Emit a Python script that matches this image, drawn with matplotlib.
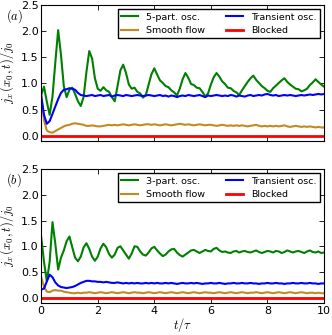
import numpy as np
import matplotlib
matplotlib.use("Agg")
import matplotlib.pyplot as plt

# time grid (t / tau)
t = np.linspace(0, 10, 101)
t_block = [0, 10]

# panel (a)
osc5_a = [0.78, 0.94, 0.65, 0.40, 0.75, 1.40, 2.02, 1.55, 0.95, 0.74,
          0.88, 0.92, 0.80, 0.66, 0.57, 0.74, 1.22, 1.62, 1.48, 1.10,
          0.90, 0.86, 0.93, 0.87, 0.84, 0.74, 0.66, 0.95, 1.25, 1.36,
          1.20, 0.98, 0.90, 0.92, 0.84, 0.81, 0.73, 0.78, 0.98, 1.18,
          1.29, 1.17, 1.06, 1.01, 0.95, 0.93, 0.87, 0.83, 0.77, 0.90,
          1.08, 1.20, 1.11, 0.99, 0.97, 0.92, 0.91, 0.84, 0.75, 0.81,
          0.98, 1.12, 1.20, 1.13, 1.04, 0.99, 0.92, 0.91, 0.86, 0.83,
          0.78, 0.87, 0.95, 1.03, 1.10, 1.15, 1.07, 1.01, 0.95, 0.91,
          0.86, 0.84, 0.91, 0.96, 1.01, 1.06, 1.10, 1.03, 0.98, 0.94,
          0.90, 0.89, 0.85, 0.87, 0.90, 0.97, 1.02, 1.08, 1.03, 0.98,
          0.94]
smooth_a = [0.77, 0.30, 0.10, 0.07, 0.06, 0.09, 0.12, 0.15, 0.18, 0.20,
            0.21, 0.23, 0.24, 0.23, 0.22, 0.21, 0.19, 0.19, 0.20, 0.19,
            0.18, 0.18, 0.19, 0.20, 0.21, 0.20, 0.21, 0.20, 0.21, 0.22,
            0.21, 0.20, 0.21, 0.22, 0.21, 0.20, 0.21, 0.22, 0.22, 0.21,
            0.22, 0.21, 0.20, 0.21, 0.22, 0.21, 0.20, 0.21, 0.22, 0.23,
            0.22, 0.21, 0.22, 0.21, 0.20, 0.21, 0.22, 0.21, 0.20, 0.21,
            0.21, 0.20, 0.19, 0.20, 0.21, 0.20, 0.19, 0.20, 0.19, 0.20,
            0.19, 0.20, 0.19, 0.18, 0.19, 0.20, 0.21, 0.19, 0.18, 0.19,
            0.18, 0.19, 0.18, 0.19, 0.18, 0.19, 0.20, 0.18, 0.17, 0.18,
            0.19, 0.18, 0.17, 0.18, 0.17, 0.18, 0.17, 0.16, 0.17, 0.16,
            0.16]
trans_a = [0.77, 0.40, 0.23, 0.28, 0.42, 0.56, 0.70, 0.82, 0.88, 0.89,
           0.91, 0.90, 0.88, 0.82, 0.78, 0.77, 0.76, 0.77, 0.78, 0.76,
           0.77, 0.78, 0.76, 0.77, 0.78, 0.75, 0.77, 0.78, 0.77, 0.76,
           0.78, 0.77, 0.76, 0.77, 0.78, 0.77, 0.76, 0.77, 0.78, 0.77,
           0.76, 0.77, 0.78, 0.76, 0.77, 0.75, 0.77, 0.76, 0.74, 0.76,
           0.77, 0.76, 0.78, 0.77, 0.76, 0.77, 0.78, 0.76, 0.74, 0.77,
           0.76, 0.77, 0.78, 0.77, 0.76, 0.77, 0.76, 0.78, 0.77, 0.75,
           0.77, 0.76, 0.75, 0.77, 0.78, 0.76, 0.77, 0.78, 0.77, 0.79,
           0.80, 0.78, 0.77, 0.78, 0.76, 0.77, 0.78, 0.77, 0.78, 0.77,
           0.76, 0.77, 0.78, 0.77, 0.78, 0.79, 0.78, 0.79, 0.80, 0.79,
           0.80]
block_a = [0.0, 0.0]

# panel (b)
osc3_b = [1.18, 0.70, 0.32, 0.70, 1.47, 1.05, 0.55, 0.78, 0.92, 1.10,
          1.19, 0.98, 0.78, 0.71, 0.80, 0.98, 1.06, 0.95, 0.80, 0.72,
          0.80, 0.96, 1.05, 0.98, 0.85, 0.78, 0.84, 0.97, 1.00, 0.92,
          0.84, 0.76, 0.86, 1.00, 0.99, 0.90, 0.84, 0.82, 0.88, 0.96,
          0.99, 0.92, 0.86, 0.81, 0.84, 0.90, 0.94, 0.95, 0.88, 0.83,
          0.80, 0.84, 0.88, 0.92, 0.93, 0.90, 0.87, 0.90, 0.93, 0.91,
          0.90, 0.95, 0.97, 0.92, 0.89, 0.90, 0.88, 0.87, 0.90, 0.91,
          0.88, 0.90, 0.91, 0.89, 0.88, 0.90, 0.92, 0.89, 0.87, 0.89,
          0.91, 0.90, 0.88, 0.91, 0.90, 0.87, 0.89, 0.92, 0.90, 0.88,
          0.90, 0.91, 0.89, 0.87, 0.90, 0.92, 0.89, 0.88, 0.90, 0.87,
          0.88]
smooth_b = [0.40, 0.22, 0.12, 0.11, 0.14, 0.15, 0.14, 0.14, 0.12, 0.11,
            0.10, 0.09, 0.09, 0.10, 0.09, 0.10, 0.10, 0.11, 0.10, 0.09,
            0.10, 0.11, 0.10, 0.09, 0.10, 0.11, 0.10, 0.09, 0.10, 0.11,
            0.10, 0.09, 0.10, 0.11, 0.10, 0.10, 0.09, 0.10, 0.11, 0.10,
            0.09, 0.10, 0.11, 0.10, 0.09, 0.10, 0.11, 0.10, 0.09, 0.10,
            0.11, 0.10, 0.09, 0.10, 0.11, 0.10, 0.09, 0.10, 0.11, 0.10,
            0.10, 0.09, 0.10, 0.11, 0.10, 0.09, 0.10, 0.11, 0.10, 0.09,
            0.10, 0.11, 0.10, 0.09, 0.10, 0.10, 0.11, 0.10, 0.09, 0.10,
            0.11, 0.10, 0.09, 0.10, 0.11, 0.10, 0.09, 0.10, 0.11, 0.10,
            0.09, 0.10, 0.11, 0.10, 0.09, 0.10, 0.10, 0.09, 0.10, 0.09,
            0.09]
trans_b = [0.16, 0.18, 0.32, 0.45, 0.40, 0.30, 0.24, 0.21, 0.20, 0.19,
           0.20, 0.21, 0.23, 0.26, 0.29, 0.31, 0.33, 0.33, 0.32, 0.32,
           0.31, 0.31, 0.30, 0.31, 0.30, 0.29, 0.29, 0.30, 0.29, 0.28,
           0.29, 0.28, 0.29, 0.28, 0.29, 0.28, 0.28, 0.29, 0.28, 0.29,
           0.28, 0.29, 0.28, 0.28, 0.29, 0.28, 0.29, 0.28, 0.27, 0.28,
           0.29, 0.28, 0.28, 0.29, 0.28, 0.29, 0.28, 0.27, 0.28, 0.28,
           0.29, 0.28, 0.28, 0.29, 0.28, 0.27, 0.28, 0.28, 0.29, 0.28,
           0.28, 0.29, 0.28, 0.28, 0.29, 0.28, 0.28, 0.27, 0.28, 0.28,
           0.29, 0.28, 0.28, 0.29, 0.28, 0.28, 0.27, 0.28, 0.28, 0.29,
           0.28, 0.28, 0.29, 0.28, 0.28, 0.29, 0.28, 0.28, 0.27, 0.28,
           0.28]
block_b = [0.0, 0.0]

osc_labels = ["5-part. osc.", "3-part. osc."]
panel_labels = ["$(a)$", "$(b)$"]

green = "#008000"
gold = "#c38b1f"
blue = "#0000ff"
red = "#ff0000"

plt.rcParams["xtick.direction"] = "in"
plt.rcParams["ytick.direction"] = "in"
plt.rcParams["xtick.top"] = True
plt.rcParams["ytick.right"] = True
plt.rcParams["xtick.labelsize"] = 8
plt.rcParams["ytick.labelsize"] = 8
plt.rcParams["mathtext.fontset"] = "cm"

fig = plt.figure(figsize=(3.32, 3.35), dpi=100)
ax_a = fig.add_axes([0.124, 0.579, 0.852, 0.406])
ax_b = fig.add_axes([0.124, 0.0955, 0.852, 0.400])

panels = [
    (ax_a, osc5_a, smooth_a, trans_a, block_a),
    (ax_b, osc3_b, smooth_b, trans_b, block_b),
]

for i, (ax, osc, smooth, trans, block) in enumerate(panels):
    ax.plot(t, osc, color=green, lw=1.5, label=osc_labels[i])
    ax.plot(t, smooth, color=gold, lw=1.5, label="Smooth flow")
    ax.plot(t, trans, color=blue, lw=1.5, label="Transient osc.")
    ax.plot(t_block, block, color=red, lw=2, label="Blocked")
    ax.set_xlim(0, 10)
    ax.set_ylim(-0.1, 2.5)
    ax.set_xticks([0, 2, 4, 6, 8, 10])
    ax.set_yticks([0.0, 0.5, 1.0, 1.5, 2.0, 2.5])
    ax.tick_params(length=3.5, width=0.6, pad=2)
    ax.set_ylabel(r"$j_x\,(x_0,t)/j_0$", fontsize=9, labelpad=3)
    ax.legend(loc="upper right", ncol=2, fontsize=6.8, fancybox=False,
              edgecolor="black", framealpha=1, handlelength=1.8,
              handletextpad=0.8, columnspacing=2.3, labelspacing=0.45,
              borderaxespad=0.45, borderpad=0.35)
    ax.text(-0.125, 0.92, panel_labels[i], transform=ax.transAxes,
            fontsize=9, ha="left", va="center")

ax_a.set_xticklabels([])
ax_b.set_xlabel(r"$t/\tau$", fontsize=9, labelpad=0)

fig.savefig("out.png", dpi=100)
